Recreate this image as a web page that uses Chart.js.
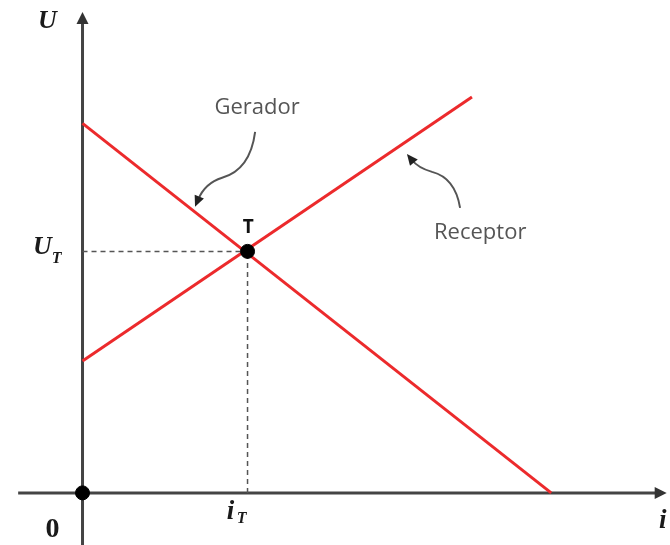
<!DOCTYPE html>
<html>
<head>
<meta charset="utf-8">
<script src="https://cdn.jsdelivr.net/npm/chart.js@4/dist/chart.umd.min.js"></script>
<style>
  html, body { margin: 0; padding: 0; background: #fff; }
  #wrap { width: 670px; height: 545px; position: relative; }
</style>
</head>
<body>
<div id="wrap"><canvas id="ivChart"></canvas></div>
<script>
// Curvas características U x i: gerador e receptor

// axis ranges (arbitrary units)
const xRange = [-2.5, 17.8];
const yRange = [-1.58, 14.94];
const xAxisSpan = [-1.95, 17.7];
const yAxisSpan = [-1.58, 14.58];

// lines
const geradorPts = [{ x: 0, y: 11.2 }, { x: 14.2, y: 0 }];
const receptorPts = [{ x: 0, y: 4.0 }, { x: 11.8, y: 12.0 }];
const pontoT = { x: 5.0, y: 7.32 };
const origem = { x: 0, y: 0 };

// text labels
const labelTexts = ['Gerador', 'Receptor', 'T'];
const labelAnchors = [{ x: 5.29, y: 11.67 }, { x: 12.05, y: 7.88 }, { x: 5.02, y: 8.03 }];

// curved pointer arrows (start, ctrl, mid, ctrl, end, tip)
const geradorArrow = [[5.23, 10.94], [5.08, 9.79], [4.23, 9.55], [3.71, 9.39], [3.5, 8.88], [3.41, 8.67]];
const receptorArrow = [[11.44, 8.64], [11.29, 9.55], [10.59, 9.73], [10.17, 9.85], [9.98, 10.09], [9.83, 10.27]];

const red = '#ec2a2c';

const axesPlugin = {
  id: 'axesPlugin',
  beforeDatasetsDraw(chart) {
    const { ctx, scales: { x, y } } = chart;
    const px = (a, b) => [x.getPixelForValue(a), y.getPixelForValue(b)];
    ctx.save();
    ctx.strokeStyle = '#444';
    ctx.fillStyle = '#333';
    ctx.lineWidth = 3;

    // horizontal axis
    let p0 = px(xAxisSpan[0], 0), p1 = px(xAxisSpan[1], 0);
    ctx.beginPath();
    ctx.moveTo(p0[0], p0[1]);
    ctx.lineTo(p1[0] - 8, p1[1]);
    ctx.stroke();
    ctx.beginPath();
    ctx.moveTo(p1[0], p1[1]);
    ctx.lineTo(p1[0] - 12, p1[1] - 6);
    ctx.lineTo(p1[0] - 12, p1[1] + 6);
    ctx.closePath();
    ctx.fill();

    // vertical axis
    p0 = px(0, yAxisSpan[0]); p1 = px(0, yAxisSpan[1]);
    ctx.beginPath();
    ctx.moveTo(p0[0], p0[1]);
    ctx.lineTo(p1[0], p1[1] + 8);
    ctx.stroke();
    ctx.beginPath();
    ctx.moveTo(p1[0], p1[1]);
    ctx.lineTo(p1[0] - 6, p1[1] + 12);
    ctx.lineTo(p1[0] + 6, p1[1] + 12);
    ctx.closePath();
    ctx.fill();
    ctx.restore();
  },
  afterDatasetsDraw(chart) {
    const { ctx, scales: { x, y } } = chart;
    const px = (a, b) => [x.getPixelForValue(a), y.getPixelForValue(b)];
    ctx.save();

    // math labels
    const tx = px(pontoT.x, pontoT.y);
    const o = px(0, 0);
    ctx.fillStyle = '#1a1a1a';
    ctx.textAlign = 'center';
    ctx.textBaseline = 'middle';
    ctx.font = 'italic bold 26px "Liberation Serif"';
    const top = px(0, yAxisSpan[1]);
    ctx.fillText('U', top[0] - 35, top[1] + 9);
    ctx.fillText('U', o[0] - 40, tx[1] - 4);
    ctx.font = 'italic bold 27px "Liberation Serif"';
    ctx.fillText('i', tx[0] - 17, o[1] + 19);
    const end = px(xAxisSpan[1], 0);
    ctx.fillText('i', end[0] - 4, end[1] + 28);
    ctx.font = 'italic bold 16px "Liberation Serif"';
    ctx.fillText('T', o[0] - 26, tx[1] + 7);
    ctx.fillText('T', tx[0] - 6, o[1] + 26);
    ctx.font = 'bold 28px "Liberation Serif"';
    ctx.fillText('0', o[0] - 30, o[1] + 37);

    // word labels
    labelTexts.forEach((t, i) => {
      const p = px(labelAnchors[i].x, labelAnchors[i].y);
      if (t === 'T') {
        ctx.font = 'bold 19px "Open Sans"';
        ctx.fillStyle = '#111';
      } else {
        ctx.font = '22px "Open Sans"';
        ctx.fillStyle = '#555';
      }
      ctx.fillText(t, p[0], p[1]);
    });

    // curved pointers
    [geradorArrow, receptorArrow].forEach(a => {
      const q = a.map(v => px(v[0], v[1]));
      ctx.strokeStyle = '#555';
      ctx.lineWidth = 2;
      ctx.beginPath();
      ctx.moveTo(q[0][0], q[0][1]);
      ctx.quadraticCurveTo(q[1][0], q[1][1], q[2][0], q[2][1]);
      ctx.quadraticCurveTo(q[3][0], q[3][1], q[4][0], q[4][1]);
      ctx.stroke();
      const ang = Math.atan2(q[5][1] - q[3][1], q[5][0] - q[3][0]);
      ctx.fillStyle = '#222';
      ctx.beginPath();
      ctx.moveTo(q[5][0], q[5][1]);
      ctx.lineTo(q[5][0] - 11 * Math.cos(ang) + 5 * Math.sin(ang), q[5][1] - 11 * Math.sin(ang) - 5 * Math.cos(ang));
      ctx.lineTo(q[5][0] - 11 * Math.cos(ang) - 5 * Math.sin(ang), q[5][1] - 11 * Math.sin(ang) + 5 * Math.cos(ang));
      ctx.closePath();
      ctx.fill();
    });
    ctx.restore();
  }
};

new Chart(document.getElementById('ivChart'), {
  type: 'scatter',
  data: {
    datasets: [
      {
        label: 'Guia U_T',
        data: [{ x: 0, y: pontoT.y }, { x: pontoT.x, y: pontoT.y }],
        showLine: true,
        borderColor: '#555',
        borderWidth: 1.5,
        borderDash: [5, 4],
        pointRadius: 0,
        order: 3
      },
      {
        label: 'Guia i_T',
        data: [{ x: pontoT.x, y: 0 }, { x: pontoT.x, y: pontoT.y }],
        showLine: true,
        borderColor: '#555',
        borderWidth: 1.5,
        borderDash: [5, 4],
        pointRadius: 0,
        order: 3
      },
      {
        label: 'Gerador',
        data: geradorPts,
        showLine: true,
        borderColor: red,
        borderWidth: 3,
        pointRadius: 0,
        order: 2
      },
      {
        label: 'Receptor',
        data: receptorPts,
        showLine: true,
        borderColor: red,
        borderWidth: 3,
        pointRadius: 0,
        order: 2
      },
      {
        label: 'Pontos',
        data: [pontoT, origem],
        showLine: false,
        pointRadius: 7,
        pointBackgroundColor: '#000',
        pointBorderColor: '#000',
        order: 0
      }
    ]
  },
  options: {
    responsive: true,
    maintainAspectRatio: false,
    animation: false,
    layout: { padding: 0, autoPadding: false },
    plugins: {
      legend: { display: false },
      tooltip: { enabled: false }
    },
    scales: {
      x: { type: 'linear', min: xRange[0], max: xRange[1], display: false },
      y: { type: 'linear', min: yRange[0], max: yRange[1], display: false }
    }
  },
  plugins: [axesPlugin]
});
</script>
</body>
</html>
